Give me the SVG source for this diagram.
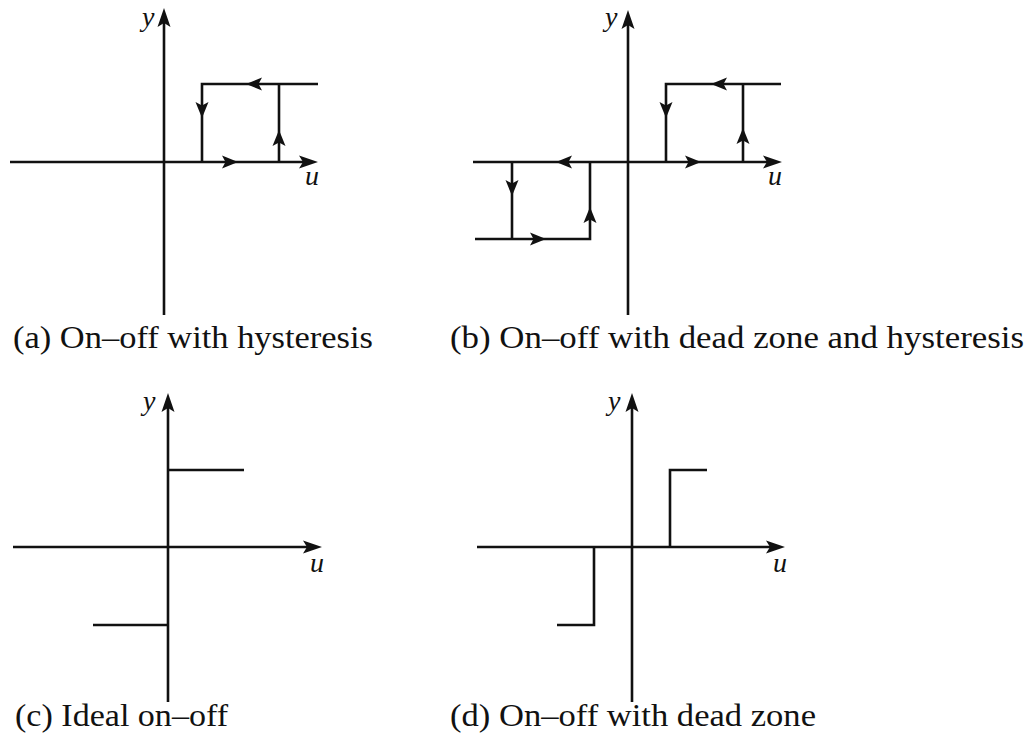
<svg xmlns="http://www.w3.org/2000/svg" xmlns:xlink="http://www.w3.org/1999/xlink" width="1029" height="745" viewBox="0 0 1029 745">
<style>
.ln{fill:none;stroke:#111;stroke-width:2.6;stroke-linecap:butt;stroke-linejoin:miter}
.ah{fill:#111;stroke:none}
text{font-family:"Liberation Serif","DejaVu Serif","Noto Serif","Times New Roman",Times,Tinos,"Nimbus Roman","FreeSerif",serif;fill:#111}
.lab{font-style:italic;font-size:28px}
.cap{font-size:31px}
</style>
<defs>
<path id="aa" class="ah" d="M0,0 L-19,-6.5 L-15,0 L-19,6.5 Z"/>
<path id="fa" class="ah" d="M0,0 L-16,-6.5 L-12.5,0 L-16,6.5 Z"/>
</defs>
<rect width="1029" height="745" fill="#fff"/>

<g id="panel-a">
  <g id="a-axes">
    <path class="ln" d="M10,162 L305,162"/>
    <use xlink:href="#aa" transform="translate(318,162)"/>
    <path class="ln" d="M164,315 L164,22"/>
    <use xlink:href="#aa" transform="translate(164,8) rotate(-90)"/>
    <text class="lab" x="142" y="26">y</text>
    <text class="lab" x="305" y="185">u</text>
  </g>
  <g id="a-connectors">
    <path class="ln" d="M318,84 L202,84 L202,162"/>
    <path class="ln" d="M279,162 L279,84"/>
    <use xlink:href="#fa" transform="translate(246,84) rotate(180)"/>
    <use xlink:href="#fa" transform="translate(202,118) rotate(90)"/>
    <use xlink:href="#fa" transform="translate(279,130) rotate(-90)"/>
    <use xlink:href="#fa" transform="translate(238,162)"/>
  </g>
  <text class="cap" x="13" y="348" textLength="360" lengthAdjust="spacingAndGlyphs">(a) On–off with hysteresis</text>
</g>

<g id="panel-b">
  <g id="b-axes">
    <path class="ln" d="M473,162 L769,162"/>
    <use xlink:href="#aa" transform="translate(782,162)"/>
    <path class="ln" d="M628,315 L628,24"/>
    <use xlink:href="#aa" transform="translate(628,10) rotate(-90)"/>
    <text class="lab" x="605" y="26">y</text>
    <text class="lab" x="768" y="185">u</text>
  </g>
  <g id="b-connectors">
    <path class="ln" d="M781,84 L666,84 L666,162"/>
    <path class="ln" d="M743,162 L743,84"/>
    <path class="ln" d="M475,239 L590,239 L590,162"/>
    <path class="ln" d="M512,162 L512,239"/>
    <use xlink:href="#fa" transform="translate(711,84) rotate(180)"/>
    <use xlink:href="#fa" transform="translate(666,118) rotate(90)"/>
    <use xlink:href="#fa" transform="translate(743,128) rotate(-90)"/>
    <use xlink:href="#fa" transform="translate(701,162)"/>
    <use xlink:href="#fa" transform="translate(556,162) rotate(180)"/>
    <use xlink:href="#fa" transform="translate(512,196) rotate(90)"/>
    <use xlink:href="#fa" transform="translate(590,207) rotate(-90)"/>
    <use xlink:href="#fa" transform="translate(546,239)"/>
  </g>
  <text class="cap" x="450" y="348" textLength="574" lengthAdjust="spacingAndGlyphs">(b) On–off with dead zone and hysteresis</text>
</g>

<g id="panel-c">
  <g id="c-axes">
    <path class="ln" d="M13,547 L309,547"/>
    <use xlink:href="#aa" transform="translate(322,547)"/>
    <path class="ln" d="M168,702 L168,407"/>
    <use xlink:href="#aa" transform="translate(168,393) rotate(-90)"/>
    <text class="lab" x="143" y="410">y</text>
    <text class="lab" x="310" y="572">u</text>
  </g>
  <g id="c-connectors">
    <path class="ln" d="M168,470 L244,470"/>
    <path class="ln" d="M93,625 L168,625"/>
  </g>
  <text class="cap" x="15" y="726" textLength="213" lengthAdjust="spacingAndGlyphs">(c) Ideal on–off</text>
</g>

<g id="panel-d">
  <g id="d-axes">
    <path class="ln" d="M477,547 L772,547"/>
    <use xlink:href="#aa" transform="translate(785,547)"/>
    <path class="ln" d="M632,702 L632,407"/>
    <use xlink:href="#aa" transform="translate(632,393) rotate(-90)"/>
    <text class="lab" x="608" y="410">y</text>
    <text class="lab" x="773" y="572">u</text>
  </g>
  <g id="d-connectors">
    <path class="ln" d="M670,547 L670,470 L707,470"/>
    <path class="ln" d="M594,547 L594,625 L557,625"/>
  </g>
  <text class="cap" x="450" y="726" textLength="366" lengthAdjust="spacingAndGlyphs">(d) On–off with dead zone</text>
</g>
</svg>
